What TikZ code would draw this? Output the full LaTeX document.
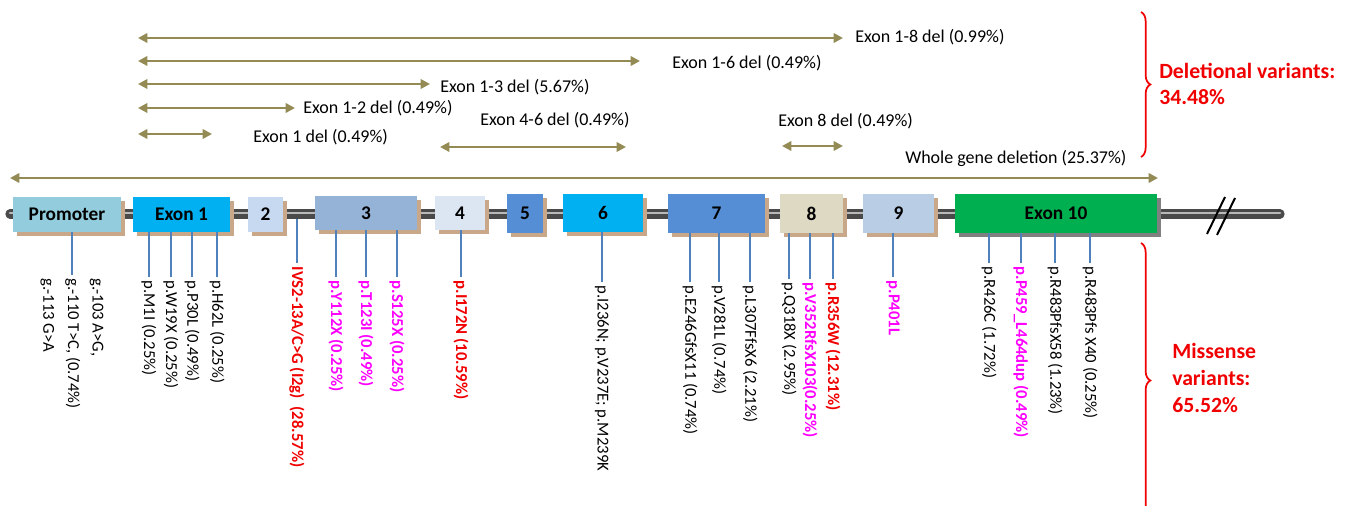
\documentclass[tikz,border=0pt]{standalone}
\usepackage{fontspec}
\setmainfont{Carlito}
\usetikzlibrary{arrows.meta,shadows,decorations.pathreplacing}

\definecolor{olivearr}{HTML}{948A54}
\definecolor{tickblue}{HTML}{4F81BD}
\definecolor{spinegray}{HTML}{4A4A4A}
\definecolor{shadowtan}{HTML}{C9A88A}
\definecolor{promcol}{HTML}{93CDDD}
\definecolor{exoncyan}{HTML}{00B0F0}
\definecolor{ex2col}{HTML}{C6D9F1}
\definecolor{ex3col}{HTML}{95B3D7}
\definecolor{ex4col}{HTML}{DCE6F2}
\definecolor{ex5col}{HTML}{558ED5}
\definecolor{ex8col}{HTML}{DDD9C3}
\definecolor{ex9col}{HTML}{B9CDE5}
\definecolor{ex10col}{HTML}{00B050}
\definecolor{varred}{HTML}{F00000}
\definecolor{varmag}{HTML}{FF00FF}

\tikzset{
  exbox/.style={draw=none, inner sep=0pt, font=\fontsize{14.5}{16}\selectfont\bfseries},
  exsize/.style 2 args={minimum width=#1*0.75pt, minimum height=#2*0.75pt},
  tanshadow/.style={drop shadow={shadow xshift=3pt, shadow yshift=-3pt, fill=shadowtan, opacity=1}},
  grayshadow/.style={drop shadow={shadow xshift=3pt, shadow yshift=-3pt, fill=gray, opacity=1}},
  delarrow/.style={olivearr, line width=2.2pt, {Triangle[length=7pt,width=7pt]}-{Triangle[length=7pt,width=7pt]}},
  dellbl/.style={anchor=west, inner sep=0pt, font=\fontsize{13.5}{16}\selectfont},
  tick/.style={tickblue, line width=1.1pt},
  vlbl/.style={rotate=-90, anchor=west, inner sep=2.5pt, font=\fontsize{12.5}{14}\selectfont},
  vmag/.style={vlbl, varmag, font=\fontsize{12.5}{14}\selectfont\bfseries},
  vred/.style={vlbl, varred, font=\fontsize{12.5}{14}\selectfont\bfseries},
  sidelbl/.style={anchor=west, align=left, varred, inner sep=0pt, font=\fontsize{16.3}{20}\selectfont\bfseries},
  groupbrace/.style={varred, line width=1.3pt, decorate, decoration={brace, amplitude=7pt}}
}

\begin{document}
\begin{tikzpicture}[x=0.75pt, y=-0.75pt]
\useasboundingbox (0,0) rectangle (1349,506);

% gene backbone
\coordinate (spineL) at (10,214);
\coordinate (spineR) at (1280,214);
\draw[line width=7pt, line cap=round, spinegray] (spineL) -- (spineR);
\draw[line width=2pt, line cap=round, gray!55] ([yshift=0.8pt]spineL) -- ([yshift=0.8pt]spineR);
\draw[line width=1.5pt] (1207,234) -- (1225,197);
\draw[line width=1.5pt] (1217,235) -- (1235,198);

% promoter and exons
\node[exbox, tanshadow, fill=promcol, exsize={108}{35}] (prom) at (67,214.5) {Promoter};
\node[exbox, tanshadow, fill=exoncyan, exsize={97}{35}] (ex1) at (181.5,214.5) {Exon 1};
\node[exbox, tanshadow, fill=ex2col, exsize={35}{35}] (ex2) at (265.5,214.5) {2};
\node[exbox, tanshadow, fill=ex3col, exsize={102}{34}] (ex3) at (366,213) {3};
\node[exbox, tanshadow, fill=ex4col, exsize={50}{34}] (ex4) at (460,213) {4};
\node[exbox, tanshadow, fill=ex5col, exsize={36}{39}] (ex5) at (525,213.5) {5};
\node[exbox, tanshadow, fill=exoncyan, exsize={80}{38}] (ex6) at (603,213) {6};
\node[exbox, tanshadow, fill=ex5col, exsize={97}{39}] (ex7) at (716.5,213.5) {7};
\node[exbox, tanshadow, fill=ex8col, exsize={63}{39}] (ex8) at (811.5,213.5) {8};
\node[exbox, tanshadow, fill=ex9col, exsize={71}{39}] (ex9) at (898.5,213.5) {9};
\node[exbox, grayshadow, fill=ex10col, exsize={202}{39}] (ex10) at (1056,213.5) {Exon 10};

% deletions
\coordinate (d18a) at (138,38);  \coordinate (d18b) at (843,38);
\coordinate (d16a) at (138,61);  \coordinate (d16b) at (640,61);
\coordinate (d13a) at (138,84);  \coordinate (d13b) at (430,84);
\coordinate (d12a) at (138,108); \coordinate (d12b) at (295,108);
\coordinate (d1a) at (138,134);  \coordinate (d1b) at (212,134);
\coordinate (d46a) at (440,147); \coordinate (d46b) at (626,147);
\coordinate (d8a) at (782,146);  \coordinate (d8b) at (843,146);
\coordinate (dwa) at (10,178);   \coordinate (dwb) at (1158,178);
\draw[delarrow] (d18a) -- (d18b);
\draw[delarrow] (d16a) -- (d16b);
\draw[delarrow] (d13a) -- (d13b);
\draw[delarrow] (d12a) -- (d12b);
\draw[delarrow] (d1a) -- (d1b);
\draw[delarrow] (d46a) -- (d46b);
\draw[delarrow] (d8a) -- (d8b);
\draw[delarrow] (dwa) -- (dwb);
\node[dellbl] (l18) at (855,37) {Exon 1-8 del (0.99\%)};
\node[dellbl] (l16) at (672,63) {Exon 1-6 del (0.49\%)};
\node[dellbl] (l13) at (440,87) {Exon 1-3 del (5.67\%)};
\node[dellbl] (l12) at (303,108) {Exon 1-2 del (0.49\%)};
\node[dellbl] (l1) at (253,137) {Exon 1 del (0.49\%)};
\node[dellbl] (l46) at (480,120) {Exon 4-6 del (0.49\%)};
\node[dellbl] (l8) at (778,121) {Exon 8 del (0.49\%)};
\node[dellbl] (lw) at (905,158) {Whole gene deletion (25.37\%)};

% variants below the gene
\node[vlbl, align=left, font=\fontsize{12.5}{18.5}\selectfont] (vprom) at (72,275) {g.-103 A>G,\\g.-110 T>C, (0.74\%)\\g.-113 G>A};
\node[vlbl] (vm1) at (149,277) {p.M1I (0.25\%)};
\node[vlbl] (vw19) at (171,277) {p.W19X (0.25\%)};
\node[vlbl] (vp30) at (192,277) {p.P30L (0.49\%)};
\node[vlbl] (vh62) at (217,277) {p.H62L (0.25\%)};
\node[vred] (vivs) at (297,263) {IVS2-13A/C>G (I2g)\ \ (28.57\%)};
\node[vmag] (vy112) at (336,277) {p.Y112X (0.25\%)};
\node[vmag] (vt123) at (366,277) {p.T123I (0.49\%)};
\node[vmag] (vs125) at (397,277) {p.S125X (0.25\%)};
\node[vred] (vi172) at (461,277) {p.I172N (10.59\%)};
\node[vlbl] (vi236) at (602,282) {p.I236N; p.V237E; p.M239K};
\node[vlbl] (ve246) at (690,282) {p.E246GfsX11 (0.74\%)};
\node[vlbl] (vv281) at (719,282) {p.V281L (0.74\%)};
\node[vlbl] (vl307) at (750,282) {p.L307FfsX6 (2.21\%)};
\node[vlbl] (vq318) at (789,279) {p.Q318X (2.95\%)};
\node[vmag] (vv352) at (810,279) {p.V352RfsX103(0.25\%)};
\node[vred] (vr356) at (833,279) {p.R356W (12.31\%)};
\node[vmag] (vp401) at (893,277) {p.P401L};
\node[vlbl] (vr426) at (989,263) {p.R426C (1.72\%)};
\node[vmag] (vp459) at (1021,263) {p.P459\_L464dup (0.49\%)};
\node[vlbl] (vr483a) at (1055,263) {p.R483PfsX58 (1.23\%)};
\node[vlbl] (vr483b) at (1090,263) {p.R483Pfs X40 (0.25\%)};

\draw[tick] (vprom.west) -- (vprom.west |- prom.south);
\draw[tick] (vm1.west) -- (vm1.west |- ex1.south);
\draw[tick] (vw19.west) -- (vw19.west |- ex1.south);
\draw[tick] (vp30.west) -- (vp30.west |- ex1.south);
\draw[tick] (vh62.west) -- (vh62.west |- ex1.south);
\draw[tick, shorten >=4pt] (vivs.west) -- (vivs.west |- spineL);
\draw[tick] (vy112.west) -- (vy112.west |- ex3.south);
\draw[tick] (vt123.west) -- (vt123.west |- ex3.south);
\draw[tick] (vs125.west) -- (vs125.west |- ex3.south);
\draw[tick] (vi172.west) -- (vi172.west |- ex4.south);
\draw[tick] (vi236.west) -- (vi236.west |- ex6.south);
\draw[tick] (ve246.west) -- (ve246.west |- ex7.south);
\draw[tick] (vv281.west) -- (vv281.west |- ex7.south);
\draw[tick] (vl307.west) -- (vl307.west |- ex7.south);
\draw[tick] (vq318.west) -- (vq318.west |- ex8.south);
\draw[tick] (vv352.west) -- (vv352.west |- ex8.south);
\draw[tick] (vr356.west) -- (vr356.west |- ex8.south);
\draw[tick] (vp401.west) -- (vp401.west |- ex9.south);
\draw[tick] (vr426.west) -- (vr426.west |- ex10.south);
\draw[tick] (vp459.west) -- (vp459.west |- ex10.south);
\draw[tick] (vr483a.west) -- (vr483a.west |- ex10.south);
\draw[tick] (vr483b.west) -- (vr483b.west |- ex10.south);

% groups
\coordinate (bu1) at (1141,12);  \coordinate (bu2) at (1141,157);
\coordinate (bl1) at (1141,243); \coordinate (bl2) at (1141,518);
\draw[groupbrace] (bu1) -- (bu2);
\draw[groupbrace] (bl1) -- (bl2);
\node[sidelbl] (gdel) at (1159,84) {Deletional variants:\\34.48\%};
\node[sidelbl] (gmis) at (1172,378) {Missense\\variants:\\65.52\%};
\end{tikzpicture}
\end{document}
